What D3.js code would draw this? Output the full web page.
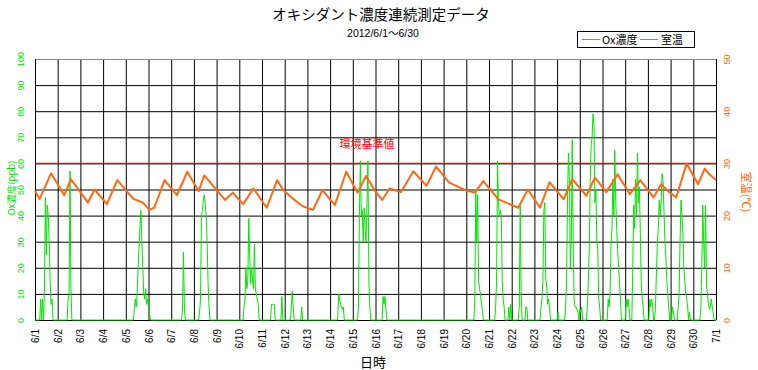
<!DOCTYPE html>
<html>
<head>
<meta charset="utf-8">
<script src="https://cdn.jsdelivr.net/npm/d3@7"></script>
<style>
  html, body { margin: 0; padding: 0; background: #ffffff; }
  svg { display: block; }
  text { font-family: "Liberation Sans", "Noto Sans CJK JP", sans-serif; }
  .jp { font-family: "Noto Sans CJK JP", sans-serif; }
</style>
</head>
<body>
<svg id="chart" width="758" height="370"></svg>
<script>
// ---------- data ----------
const titleText = "オキシダント濃度連続測定データ";
const subtitleText = "2012/6/1～6/30";
const dayLabels = ["6/1","6/2","6/3","6/4","6/5","6/6","6/7","6/8","6/9","6/10",
  "6/11","6/12","6/13","6/14","6/15","6/16","6/17","6/18","6/19","6/20",
  "6/21","6/22","6/23","6/24","6/25","6/26","6/27","6/28","6/29","6/30","7/1"];
const oxTicks = [0,10,20,30,40,50,60,70,80,90,100];
const tempTicks = [0,10,20,30,40,50];
const standardValue = 60; // 環境基準値 (ppb)

// Ox concentration (ppb), hourly from 6/1 0:00
const oxHourly = [
  0,0,0,0,0,0,8,0,8,0,12,47,25,44,40,30,15,6,8,0,0,0,0,0,          // 6/1
  0,0,0,0,0,0,0,0,0,0,0,8,10,57,12,0,0,0,0,0,0,0,0,0,              // 6/2
  0,0,0,0,0,0,0,0,0,0,0,0,0,0,0,0,0,0,0,0,0,0,0,0,                 // 6/3
  0,0,0,0,0,0,0,0,0,0,0,0,0,0,0,0,0,0,0,0,0,0,0,0,                 // 6/4
  0,0,0,0,0,0,0,0,0,4,8,5,10,20,28,36,42,30,20,10,8,12,6,8,        // 6/5
  5,3,0,0,0,0,0,0,0,0,0,0,0,0,0,0,0,0,0,0,0,0,0,0,                 // 6/6
  0,0,0,0,0,0,0,0,0,0,0,0,5,26,4,0,0,0,0,0,0,0,0,0,                // 6/7
  0,0,0,0,0,0,3,8,40,42,46,48,44,40,30,14,5,0,0,0,0,0,0,0,         // 6/8
  0,0,0,0,0,0,0,0,0,0,0,0,0,0,0,0,0,0,0,0,0,0,0,0,                 // 6/9
  0,0,0,0,0,5,8,20,12,15,39,25,14,20,15,12,29,12,10,8,6,0,0,0,     // 6/10
  0,0,0,0,0,0,0,0,0,0,6,6,6,6,0,0,0,0,0,0,0,9,0,0,                 // 6/11
  0,0,0,0,0,0,0,5,11,5,0,0,0,0,0,0,0,0,5,0,0,0,0,0,                // 6/12
  0,0,0,0,0,0,0,0,0,0,0,0,0,0,0,0,0,0,0,0,0,0,0,0,                 // 6/13
  0,0,0,0,0,0,0,0,0,10,8,6,5,4,5,0,0,0,0,0,0,0,0,0,                // 6/14
  0,0,0,0,0,0,5,41,61,40,42,30,43,35,30,45,61,15,5,0,0,0,0,0,      // 6/15
  0,0,0,0,0,0,0,0,9,6,9,4,0,0,0,0,0,0,0,0,0,0,0,0,                 // 6/16
  0,0,0,0,0,0,0,0,0,0,0,0,0,0,0,0,0,0,0,0,0,0,0,0,                 // 6/17
  0,0,0,0,0,0,0,0,0,0,0,0,0,0,0,0,0,0,0,0,0,0,0,0,                 // 6/18
  0,0,0,0,0,0,0,0,0,0,0,0,0,0,0,0,0,0,0,0,0,0,0,0,                 // 6/19
  0,0,0,0,0,0,0,0,0,8,50,30,48,15,12,10,6,4,0,0,0,0,0,0,           // 6/20
  0,0,0,0,0,0,0,5,15,61,45,40,42,40,15,8,5,0,0,0,0,5,0,6,          // 6/21
  0,0,0,0,0,0,0,0,5,44,10,0,0,0,0,5,5,0,0,0,0,0,0,0,               // 6/22
  0,0,0,0,0,0,0,5,8,15,42,45,16,13,6,8,5,0,0,0,0,0,0,0,            // 6/23
  0,3,0,0,0,0,0,0,0,5,15,46,64,55,20,31,69,30,8,5,5,4,3,0,         // 6/24
  4,3,5,0,0,0,0,0,5,15,27,53,67,70,79,74,45,50,30,27,8,5,0,0,      // 6/25
  0,0,0,0,0,0,8,5,10,29,35,54,40,65,46,35,27,20,14,8,0,0,0,0,      // 6/26
  0,8,5,8,5,0,0,0,20,44,35,54,40,64,45,51,33,14,8,5,0,0,0,0,       // 6/27
  0,0,8,5,8,5,0,0,5,18,30,35,46,40,45,56,53,42,30,24,15,10,5,0,    // 6/28
  0,0,5,3,0,0,0,0,5,10,30,46,40,33,20,15,10,8,5,0,3,0,0,0,         // 6/29
  0,0,0,0,0,0,0,0,5,20,44,29,20,44,13,10,6,4,5,8,5,3,0,0,          // 6/30
  0                                                                // 7/1 0:00
];

// Room temperature (°C): readings at hours since 6/1 0:00
const tempHours = [0,5,17,31,38,56,63,76,87,104,114,121,126,137,150,161,173,179,192,201,
  209,220,231,245,256,262,273,283,294,304,317,329,341,350,359,367,375,387,400,414,
  424,438,450,458,465,474,490,498,511,521,534,544,559,568,583,592,604,616,629,640,
  654,662,669,678,689,701,708,713,720];
const tempValues = [24.7,23.2,28.1,23.9,27.0,22.5,25.0,22.2,26.8,23.2,22.5,21.1,21.5,26.8,23.9,28.4,24.7,27.7,24.9,23.0,
  24.4,22.2,25.2,21.5,26.8,25.0,23.2,21.8,21.1,24.9,22.0,28.4,24.4,27.6,24.9,23.0,25.2,24.5,28.5,25.7,
  29.4,26.3,25.3,24.7,24.4,26.6,23.1,22.5,21.5,25.0,21.5,26.4,23.1,27.0,23.8,27.3,24.5,27.9,24.1,26.8,
  23.5,26.0,24.7,23.5,30.0,26.0,29.0,27.9,26.8];

// ---------- chart ----------
const svg = d3.select("#chart");
const L = 35, R = 716, T = 59, B = 320;
const GREEN = "#00e600", ORANGE = "#ff6a10", TEXTGREEN = "#00dd00", TEXTORANGE = "#ff6600";

const x = d3.scaleLinear().domain([0, 720]).range([L, R]);
const yOx = d3.scaleLinear().domain([0, 100]).range([B, T]);
const yT = d3.scaleLinear().domain([0, 50]).range([B, T]);

// grid via axes
const xAxis = d3.axisBottom(x)
  .tickValues(d3.range(0, 721, 24))
  .tickFormat((d, i) => dayLabels[i])
  .tickSize(-(B - T));
const gx = svg.append("g").attr("transform", `translate(0,${B})`).call(xAxis);
gx.select(".domain").remove();
gx.selectAll(".tick line").attr("stroke", "#000").attr("stroke-width", 1);
gx.selectAll(".tick text")
  .attr("transform", "rotate(-90)")
  .attr("x", -9).attr("y", 0).attr("dy", "0.35em")
  .style("text-anchor", "end")
  .attr("fill", "#000")
  .attr("font-size", 10);

const yAxisL = d3.axisLeft(yOx).tickValues(oxTicks).tickSize(-(R - L)).tickFormat(d3.format("d"));
const gyl = svg.append("g").attr("transform", `translate(${L},0)`).call(yAxisL);
gyl.select(".domain").remove();
gyl.selectAll(".tick line").attr("stroke", "#000").attr("stroke-width", 1);
gyl.selectAll(".tick text")
  .attr("x", null).attr("dy", null)
  .attr("transform", "translate(-14,0) rotate(-90)")
  .attr("dy", "0.35em")
  .style("text-anchor", "middle")
  .attr("fill", TEXTGREEN)
  .attr("font-size", 9);

const yAxisR = d3.axisRight(yT).tickValues(tempTicks).tickSize(0).tickFormat(d3.format("d"));
const gyr = svg.append("g").attr("transform", `translate(${R},0)`).call(yAxisR);
gyr.select(".domain").remove();
gyr.selectAll(".tick text")
  .attr("x", null).attr("dy", null)
  .attr("transform", "translate(11,0) rotate(-90)")
  .attr("dy", "0.35em")
  .style("text-anchor", "middle")
  .attr("fill", TEXTORANGE)
  .attr("font-size", 9);

// borders
svg.append("line").attr("x1", L).attr("x2", R).attr("y1", T + 0.5).attr("y2", T + 0.5).attr("stroke", "#888");
svg.append("line").attr("x1", L).attr("x2", R).attr("y1", B + 0.5).attr("y2", B + 0.5).attr("stroke", "#000");
svg.append("line").attr("x1", L + 0.5).attr("x2", L + 0.5).attr("y1", T).attr("y2", B).attr("stroke", "#000");
svg.append("line").attr("x1", R + 0.5).attr("x2", R + 0.5).attr("y1", T).attr("y2", B).attr("stroke", "#000");

// standard line
svg.append("line")
  .attr("x1", L).attr("x2", R)
  .attr("y1", yOx(standardValue)).attr("y2", yOx(standardValue))
  .attr("stroke", "#ff0000").attr("stroke-width", 1.3);
svg.append("text").attr("class", "jp")
  .attr("x", 367).attr("y", yOx(standardValue) - 15)
  .attr("text-anchor", "middle").attr("fill", "#ff0000").attr("font-size", 11)
  .text("環境基準値");

// Ox line
const oxLine = d3.line().x((d, i) => x(i)).y(d => yOx(d));
svg.append("path").datum(oxHourly)
  .attr("d", oxLine).attr("fill", "none")
  .attr("stroke", GREEN).attr("stroke-width", 1);

// temperature line
const tLine = d3.line().x((d, i) => x(tempHours[i])).y(d => yT(d));
svg.append("path").datum(tempValues)
  .attr("d", tLine).attr("fill", "none")
  .attr("stroke", ORANGE).attr("stroke-width", 2).attr("stroke-linejoin", "round");

// titles
svg.append("text").attr("class", "jp").attr("x", 381).attr("y", 20)
  .attr("text-anchor", "middle").attr("font-size", 14.5).attr("fill", "#000").text(titleText);
svg.append("text").attr("x", 383).attr("y", 37)
  .attr("text-anchor", "middle").attr("font-size", 10.5).attr("fill", "#000")
  .text(subtitleText);

// axis titles
svg.append("text").attr("class", "jp")
  .attr("transform", `translate(15,${188}) rotate(-90)`)
  .attr("text-anchor", "middle").attr("font-size", 9.5).attr("fill", TEXTGREEN)
  .text("Ox濃度(ppb)");
svg.append("text").attr("class", "jp")
  .attr("transform", `translate(742,${192}) rotate(90)`)
  .attr("text-anchor", "middle").attr("font-size", 11).attr("fill", TEXTORANGE)
  .text("室温(℃)");
svg.append("text").attr("class", "jp")
  .attr("x", 373).attr("y", 367)
  .attr("text-anchor", "middle").attr("font-size", 13).attr("fill", "#000")
  .text("日時");

// legend
const lg = svg.append("g");
lg.append("rect").attr("x", 577.5).attr("y", 31.5).attr("width", 117).attr("height", 16)
  .attr("fill", "#fff").attr("stroke", "#000");
lg.append("line").attr("x1", 582).attr("x2", 600).attr("y1", 39.5).attr("y2", 39.5).attr("stroke", GREEN);
lg.append("text").attr("class", "jp").attr("x", 602).attr("y", 44).attr("font-size", 11).attr("fill", "#000").text("Ox濃度");
lg.append("line").attr("x1", 640).attr("x2", 658).attr("y1", 39.5).attr("y2", 39.5).attr("stroke", ORANGE);
lg.append("text").attr("class", "jp").attr("x", 661).attr("y", 44).attr("font-size", 11).attr("fill", "#000").text("室温");
</script>
</body>
</html>
